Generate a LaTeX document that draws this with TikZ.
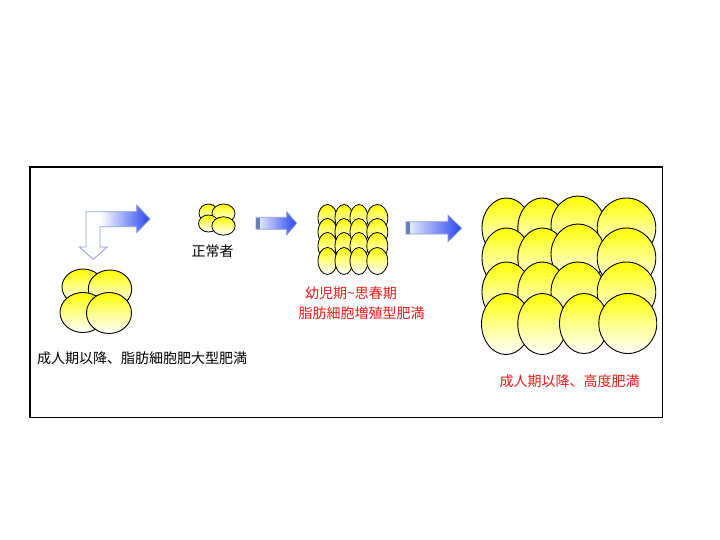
\documentclass[tikz,border=0pt]{standalone}
\usepackage{fontspec}
\newfontfamily\cjk{Noto Sans CJK JP}
\definecolor{arrowblue}{RGB}{40,70,240}
\definecolor{arrowedge}{RGB}{140,160,210}
\definecolor{capblue}{RGB}{105,128,190}
\definecolor{labelred}{RGB}{240,25,25}
\pgfdeclarehorizontalshading{bentshade}{100bp}{rgb(0bp)=(1,1,1); rgb(40bp)=(1,1,1); rgb(75bp)=(0.16,0.27,0.94); rgb(100bp)=(0.16,0.27,0.94)}
\begin{document}
\begin{tikzpicture}[x=1pt,y=-1pt,
  cell/.style={draw=black, line width=0.9pt, top color=yellow, bottom color=white, middle color=yellow!45},
  lbl/.style={font=\cjk\fontsize{14}{16}\selectfont, inner sep=0pt},
  redlbl/.style={lbl, text=labelred},
  blockarrow/.style={draw=arrowedge, line width=0.7pt, left color=arrowblue!6, right color=arrowblue},
  endcap/.style={fill=capblue}]
\fill[white] (0,0) rectangle (720,540);
\useasboundingbox (0,0) rectangle (720,540);
% frame
\draw[line width=1.3pt, black] (30,167) rectangle (662.3,417.3);

% bent arrow
\shade[shading=bentshade, draw=arrowedge, line width=0.8pt]
  (86,247) -- (86,211.7) -- (136.7,211.7) -- (136.7,205) -- (150,219) -- (136.7,232.7)
  -- (136.7,226.7) -- (100,226.7) -- (100,247) -- (107.3,247) -- (93.3,259.3) -- (79.3,247) -- cycle;

% straight arrows
\shade[blockarrow] (256,217.3) -- (286.7,217.3) -- (286.7,211.7) -- (296.7,223.3)
  -- (286.7,235) -- (286.7,229.3) -- (256,229.3) -- cycle;
\fill[endcap] (256,217.6) rectangle (260,229);
\shade[blockarrow] (406,221.7) -- (448,221.7) -- (448,215) -- (461.7,228.3)
  -- (448,241.7) -- (448,234) -- (406,234) -- cycle;
\fill[endcap] (406,222) rectangle (410,233.7);

% normal cells
\shade[cell, line width=0.8pt] (208.5,213) ellipse [x radius=9.5, y radius=9];
\shade[cell, line width=0.8pt] (223.5,213.5) ellipse [x radius=11.5, y radius=9.5];
\shade[cell, line width=0.8pt] (208.5,223.5) ellipse [x radius=10, y radius=8.5];
\shade[cell, line width=0.8pt] (223.5,226) ellipse [x radius=11.7, y radius=9.2];

% adult hypertrophic cells
\shade[cell] (83,287) ellipse [x radius=21, y radius=18];
\shade[cell] (110,289) ellipse [x radius=21.7, y radius=19];
\shade[cell] (83,312.5) ellipse [x radius=23, y radius=20];
\shade[cell] (109,313) ellipse [x radius=22.5, y radius=20.5];

% childhood hyperplastic cells (4x4)
\foreach \yy in {218,232,246,261}{
  \shade[cell, line width=0.8pt] (327.5,\yy) ellipse [x radius=9.5, y radius=13.5];
  \shade[cell, line width=0.8pt] (344,\yy) ellipse [x radius=9, y radius=13.5];
  \shade[cell, line width=0.8pt] (359,\yy) ellipse [x radius=9, y radius=13.5];
  \shade[cell, line width=0.8pt] (377.3,\yy) ellipse [x radius=10.5, y radius=13.5];
}

% severe obesity cells (4x4)
\foreach \yy/\dy in {228/-2,258/-4,292/0}{
  \shade[cell] (506.5,\yy) ellipse [x radius=24.5, y radius=30];
  \shade[cell] (542.3,\yy) ellipse [x radius=24.5, y radius=30];
  \shade[cell] (578,\yy+\dy) ellipse [x radius=27, y radius=30];
  \shade[cell] (626.5,\yy) ellipse [x radius=29.3, y radius=30];
}
\shade[cell] (506,324) ellipse [x radius=24.5, y radius=30.5];
\shade[cell] (542.3,324) ellipse [x radius=24.5, y radius=30.5];
\shade[cell] (584,323.5) ellipse [x radius=24.5, y radius=30];
\shade[cell] (627.8,323.5) ellipse [x radius=29, y radius=30];

% labels
\node[lbl, anchor=center] (normal) at (212.5,251.5) {正常者};
\node[lbl, anchor=west] (adultone) at (37,358) {成人期以降、脂肪細胞肥大型肥満};
\node[redlbl, anchor=west] (childone) at (305,293.3) {幼児期\char"7E 思春期};
\node[redlbl, anchor=west] (childtwo) at (298.3,313.3) {脂肪細胞増殖型肥満};
\node[redlbl, anchor=west] (adulttwo) at (499.3,381.7) {成人期以降、高度肥満};
\end{tikzpicture}
\end{document}
